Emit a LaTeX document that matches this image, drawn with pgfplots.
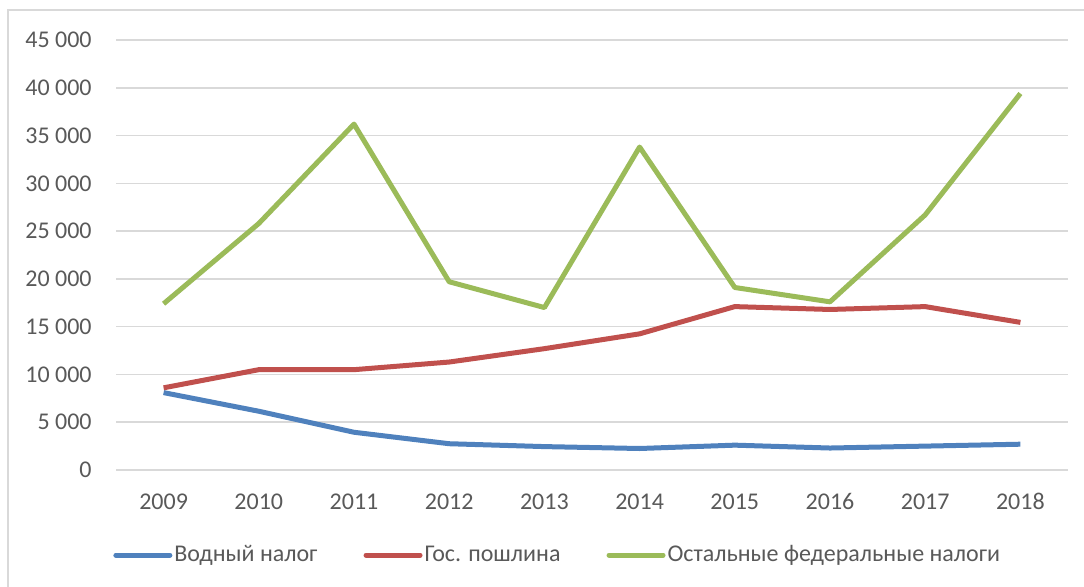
\documentclass[border=0pt]{standalone}
\usepackage{fontspec}
\setmainfont{Carlito}
\usepackage{pgfplots}
\pgfplotsset{compat=1.18}
\definecolor{cblue}{HTML}{4F81BD}
\definecolor{cred}{HTML}{C0504D}
\definecolor{cgreen}{HTML}{9BBB59}
\definecolor{cgrid}{HTML}{D9D9D9}
\definecolor{ctext}{HTML}{595959}
\begin{document}
\begin{tikzpicture}
\path[use as bounding box] (0pt,0pt) rectangle (542pt,293pt);
\draw[cgrid, line width=0.75pt] (4pt,-1pt) -- (4pt,288pt) -- (543pt,288pt);
\begin{axis}[
  at={(58pt,58pt)}, anchor=south west,
  scale only axis, width=476pt, height=215pt,
  xmin=-0.5, xmax=9.5, ymin=0, ymax=45000,
  scaled y ticks=false,
  xtick={0,1,2,3,4,5,6,7,8,9},
  xticklabels={2009,2010,2011,2012,2013,2014,2015,2016,2017,2018},
  ytick={0,5000,10000,15000,20000,25000,30000,35000,40000,45000},
  yticklabels={0,5~000,10~000,15~000,20~000,25~000,30~000,35~000,40~000,45~000},
  axis line style={draw=none},
  major tick length=0pt,
  ymajorgrids, grid style={cgrid, line width=0.75pt},
  tick label style={font=\fontsize{12}{14}\selectfont, text=ctext},
  yticklabel style={anchor=east, inner sep=0pt, xshift=-12pt},
  xticklabel style={anchor=base, inner sep=0pt, yshift=-19.5pt},
  legend columns=3,
  legend style={draw=none, fill=none, at={(0.464,-0.198)}, anchor=center,
    font=\fontsize{12}{14}\selectfont, text=ctext,
    /tikz/every even column/.append style={column sep=22pt},
    inner sep=0pt, nodes={inner sep=1pt}},
  legend image code/.code={\draw[#1, line cap=round] (0pt,0pt) -- (27pt,0pt);},
  every axis plot/.append style={line width=2.5pt, line join=round, no markers},
]
\addplot[cblue] coordinates {(0,8100) (1,6150) (2,3950) (3,2750) (4,2450) (5,2250) (6,2600) (7,2300) (8,2500) (9,2700)};
\addlegendentry{Водный налог}
\addplot[cred] coordinates {(0,8600) (1,10500) (2,10500) (3,11300) (4,12700) (5,14250) (6,17100) (7,16800) (8,17100) (9,15450)};
\addlegendentry{Гос. пошлина}
\addplot[cgreen] coordinates {(0,17400) (1,25800) (2,36200) (3,19700) (4,17000) (5,33800) (6,19100) (7,17600) (8,26700) (9,39400)};
\addlegendentry{Остальные федеральные налоги}
\end{axis}
\end{tikzpicture}
\end{document}
